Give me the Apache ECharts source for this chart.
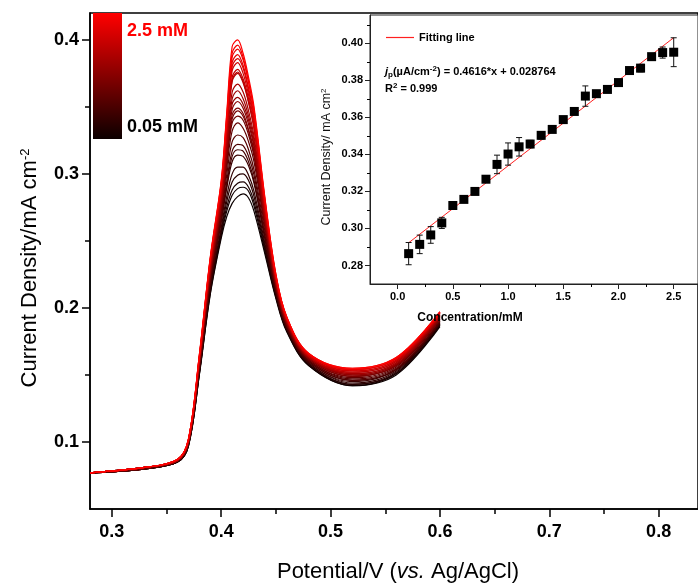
<!DOCTYPE html>
<html>
<head>
<meta charset="utf-8">
<script src="https://cdn.jsdelivr.net/npm/echarts@6/dist/echarts.min.js"></script>
<style>
  html, body { margin: 0; padding: 0; background: #fff; }
  #chart { width: 698px; height: 586px; }
</style>
</head>
<body>
<div id="chart"></div>
<script>
// ---- DPV scans: potential grid (V vs Ag/AgCl) shared by every scan ----
const potential = [0.28, 0.33, 0.36, 0.37, 0.38, 0.39, 0.40, 0.405, 0.41, 0.415, 0.42, 0.425, 0.43, 0.44, 0.45, 0.46, 0.48, 0.52, 0.56, 0.60];

// concentrations of the scans, mM (0.05 mM = darkest, 2.5 mM = red)
const concentrations = [0.05, 0.1, 0.2, 0.3, 0.4, 0.5, 0.6, 0.7, 0.8, 0.9, 1.0, 1.1, 1.2, 1.3, 1.4, 1.5, 1.6, 1.7, 1.8, 1.9, 2.0, 2.1, 2.2, 2.3, 2.4, 2.5];

// current density, mA cm^-2, one row per concentration
const scans = [
  [0.077,0.080,0.085,0.097,0.150,0.210,0.252,0.268,0.278,0.283,0.285,0.282,0.272,0.240,0.207,0.182,0.157,0.142,0.150,0.186],
  [0.077,0.080,0.085,0.097,0.151,0.211,0.254,0.272,0.284,0.289,0.290,0.287,0.276,0.242,0.208,0.183,0.157,0.142,0.151,0.187],
  [0.077,0.080,0.085,0.097,0.151,0.213,0.256,0.275,0.288,0.293,0.294,0.290,0.279,0.244,0.209,0.183,0.158,0.143,0.151,0.187],
  [0.077,0.080,0.085,0.098,0.152,0.214,0.258,0.279,0.294,0.299,0.300,0.295,0.283,0.246,0.210,0.184,0.158,0.143,0.152,0.188],
  [0.077,0.080,0.085,0.098,0.153,0.215,0.260,0.283,0.300,0.305,0.305,0.299,0.287,0.248,0.210,0.184,0.159,0.144,0.153,0.188],
  [0.077,0.080,0.086,0.098,0.154,0.218,0.264,0.289,0.309,0.314,0.313,0.306,0.293,0.251,0.212,0.185,0.159,0.145,0.154,0.189],
  [0.077,0.080,0.086,0.099,0.155,0.218,0.265,0.291,0.313,0.318,0.317,0.309,0.295,0.253,0.212,0.185,0.160,0.146,0.154,0.189],
  [0.077,0.080,0.086,0.099,0.155,0.220,0.267,0.294,0.317,0.322,0.321,0.313,0.299,0.254,0.213,0.186,0.160,0.146,0.154,0.190],
  [0.077,0.080,0.086,0.099,0.156,0.221,0.269,0.299,0.324,0.329,0.327,0.318,0.303,0.257,0.214,0.186,0.161,0.147,0.155,0.190],
  [0.077,0.080,0.086,0.099,0.157,0.223,0.272,0.304,0.332,0.338,0.334,0.324,0.309,0.260,0.216,0.187,0.161,0.148,0.156,0.191],
  [0.077,0.081,0.086,0.100,0.158,0.225,0.274,0.308,0.338,0.343,0.340,0.329,0.313,0.262,0.216,0.188,0.162,0.149,0.157,0.192],
  [0.077,0.081,0.086,0.100,0.158,0.225,0.276,0.310,0.341,0.347,0.343,0.332,0.315,0.263,0.217,0.188,0.162,0.149,0.157,0.192],
  [0.077,0.081,0.086,0.100,0.159,0.226,0.277,0.312,0.344,0.349,0.345,0.333,0.317,0.264,0.217,0.188,0.162,0.149,0.157,0.192],
  [0.077,0.081,0.086,0.100,0.159,0.227,0.278,0.315,0.348,0.354,0.349,0.337,0.320,0.266,0.218,0.189,0.163,0.150,0.158,0.193],
  [0.077,0.081,0.086,0.100,0.160,0.228,0.280,0.317,0.352,0.357,0.352,0.340,0.322,0.267,0.219,0.189,0.163,0.150,0.158,0.193],
  [0.077,0.081,0.086,0.100,0.160,0.229,0.281,0.320,0.356,0.362,0.356,0.343,0.325,0.269,0.219,0.190,0.163,0.151,0.159,0.194],
  [0.077,0.081,0.086,0.101,0.161,0.230,0.283,0.323,0.361,0.367,0.361,0.347,0.328,0.270,0.220,0.190,0.164,0.151,0.159,0.194],
  [0.077,0.081,0.087,0.101,0.162,0.232,0.286,0.329,0.369,0.375,0.368,0.353,0.334,0.273,0.221,0.191,0.164,0.152,0.160,0.195],
  [0.077,0.081,0.087,0.101,0.162,0.232,0.286,0.330,0.370,0.376,0.369,0.354,0.334,0.274,0.221,0.191,0.164,0.152,0.160,0.195],
  [0.077,0.081,0.087,0.101,0.162,0.233,0.287,0.331,0.372,0.378,0.371,0.356,0.336,0.274,0.222,0.191,0.164,0.153,0.161,0.195],
  [0.077,0.081,0.087,0.101,0.163,0.234,0.289,0.334,0.377,0.383,0.375,0.359,0.339,0.276,0.223,0.192,0.165,0.153,0.161,0.196],
  [0.077,0.081,0.087,0.102,0.163,0.235,0.290,0.337,0.380,0.386,0.379,0.362,0.341,0.277,0.223,0.192,0.165,0.154,0.162,0.196],
  [0.077,0.081,0.087,0.102,0.164,0.236,0.291,0.338,0.383,0.389,0.381,0.364,0.343,0.278,0.223,0.192,0.165,0.154,0.162,0.196],
  [0.077,0.081,0.087,0.102,0.164,0.237,0.293,0.341,0.387,0.393,0.385,0.368,0.346,0.280,0.224,0.193,0.166,0.154,0.162,0.197],
  [0.077,0.081,0.087,0.102,0.165,0.237,0.294,0.343,0.390,0.396,0.387,0.369,0.348,0.281,0.225,0.193,0.166,0.155,0.163,0.197],
  [0.077,0.081,0.087,0.102,0.165,0.238,0.295,0.345,0.395,0.400,0.390,0.372,0.350,0.282,0.225,0.193,0.166,0.155,0.163,0.197]
];

// main axis ticks
const mainXLabels = [0.3, 0.4, 0.5, 0.6, 0.7, 0.8];
const mainXMinor = [0.35, 0.45, 0.55, 0.65, 0.75];
const mainYLabels = [0.1, 0.2, 0.3, 0.4];
const mainYMinor = [0.15, 0.25, 0.35];

// ---- calibration inset ----
const insetConc = [0.1, 0.2, 0.3, 0.4, 0.5, 0.6, 0.7, 0.8, 0.9, 1.0, 1.1, 1.2, 1.3, 1.4, 1.5, 1.6, 1.7, 1.8, 1.9, 2.0, 2.1, 2.2, 2.3, 2.4, 2.5];
const insetPeak = [0.2864, 0.2914, 0.2965, 0.3030, 0.3124, 0.3157, 0.3200, 0.3266, 0.3346, 0.3402, 0.3441, 0.3456, 0.3503, 0.3535, 0.3588, 0.3632, 0.3715, 0.3728, 0.3751, 0.3788, 0.3853, 0.3866, 0.3928, 0.3950, 0.3952];
const insetErr = [0.0060, 0.0050, 0.0045, 0.0030, 0.0010, 0.0010, 0.0008, 0.0010, 0.0050, 0.0060, 0.0050, 0.0020, 0.0020, 0.0010, 0.0010, 0.0010, 0.0055, 0.0010, 0.0010, 0.0010, 0.0010, 0.0020, 0.0010, 0.0030, 0.0078];
const fitSlope = 0.4616;       // as printed in the equation
const fitIntercept = 0.028764; // as printed in the equation
const fitRange = [0.1, 2.5];

const insetXLabels = [0, 0.5, 1.0, 1.5, 2.0, 2.5];
const insetXMinor = [0.25, 0.75, 1.25, 1.75, 2.25];
const insetYLabels = [0.28, 0.30, 0.32, 0.34, 0.36, 0.38, 0.40];
const insetYMinor = [0.29, 0.31, 0.33, 0.35, 0.37, 0.39, 0.41];

// ---------------------------------------------------------------
const FONT = 'Arial, "Liberation Sans", sans-serif';
const chart = echarts.init(document.getElementById('chart'), null, { renderer: 'canvas' });

const cMin = concentrations[0], cMax = concentrations[concentrations.length - 1];
function scanColor(c) {
  const t = (c - cMin) / (cMax - cMin);
  const r = Math.round(12 + t * (255 - 12));
  return 'rgb(' + r + ',0,0)';
}

const scanSeries = scans.map((row, i) => ({
  type: 'line',
  name: concentrations[i] + ' mM',
  xAxisIndex: 0, yAxisIndex: 0,
  data: row.map((v, k) => [potential[k], v]),
  smooth: 0.35,
  showSymbol: false,
  symbol: 'none',
  lineStyle: { color: scanColor(concentrations[i]), width: 1.2 },
  z: 3 + i,
  silent: true
}));

const fitLine = fitRange.map(x => [x, fitSlope * x / 10 + fitIntercept * 10]);

const axisBlack = { color: '#000', width: 1.5 };

// an unlabeled companion axis that only draws the short (minor) ticks
function tickAxis(gridIndex, min, max, pos, vals, len, width) {
  return {
    type: 'value', gridIndex, min, max, position: pos,
    axisLine: { show: false, onZero: false },
    axisTick: { show: true, inside: false, customValues: vals, length: len, lineStyle: { color: '#000', width } },
    axisLabel: { show: false },
    splitLine: { show: false }
  };
}

const option = {
  animation: false,
  backgroundColor: '#fff',
  grid: [
    { left: 90, top: 13, right: -3, bottom: 77, show: true, borderColor: '#000', borderWidth: 1.5, backgroundColor: 'transparent' },
    { left: 370, top: 15, right: -3, bottom: 302, show: true, borderColor: '#222', borderWidth: 1, backgroundColor: '#fff' }
  ],
  xAxis: [
    {
      type: 'value', gridIndex: 0, min: 0.28, max: 0.836, position: 'bottom',
      axisLine: { show: true, onZero: false, lineStyle: axisBlack },
      axisTick: { show: true, customValues: mainXLabels, length: 8, lineStyle: axisBlack },
      axisLabel: { customValues: mainXLabels, formatter: v => v.toFixed(1), color: '#000', fontFamily: FONT, fontSize: 18, fontWeight: 'bold', margin: 14 },
      splitLine: { show: false }
    },
    tickAxis(0, 0.28, 0.836, 'bottom', mainXMinor, 5, 1.5),
    {
      type: 'value', gridIndex: 1, min: -0.25, max: 2.72, position: 'bottom',
      axisLine: { show: true, onZero: false, lineStyle: { color: '#222', width: 1 } },
      axisTick: { show: true, customValues: insetXLabels, length: 5, lineStyle: { color: '#222', width: 1 } },
      axisLabel: { customValues: insetXLabels, formatter: v => v.toFixed(1), color: '#000', fontFamily: FONT, fontSize: 11, fontWeight: 'bold', margin: 7 },
      splitLine: { show: false }
    },
    tickAxis(1, -0.25, 2.72, 'bottom', insetXMinor, 3, 1)
  ],
  yAxis: [
    {
      type: 'value', gridIndex: 0, min: 0.05, max: 0.42, position: 'left',
      axisLine: { show: true, onZero: false, lineStyle: axisBlack },
      axisTick: { show: true, customValues: mainYLabels, length: 8, lineStyle: axisBlack },
      axisLabel: { customValues: mainYLabels, formatter: v => v.toFixed(1), color: '#000', fontFamily: FONT, fontSize: 18, fontWeight: 'bold', margin: 11 },
      splitLine: { show: false }
    },
    tickAxis(0, 0.05, 0.42, 'left', mainYMinor, 5, 1.5),
    {
      type: 'value', gridIndex: 1, min: 0.27, max: 0.4153, position: 'left',
      axisLine: { show: true, onZero: false, lineStyle: { color: '#222', width: 1 } },
      axisTick: { show: true, customValues: insetYLabels, length: 5, lineStyle: { color: '#222', width: 1 } },
      axisLabel: { customValues: insetYLabels, formatter: v => v.toFixed(2), color: '#000', fontFamily: FONT, fontSize: 11, fontWeight: 'bold', margin: 7 },
      splitLine: { show: false }
    },
    tickAxis(1, 0.27, 0.4153, 'left', insetYMinor, 3, 1)
  ],
  legend: {
    data: ['Fitting line'],
    left: 386, top: 32, padding: 0,
    icon: 'rect', itemWidth: 28, itemHeight: 1.2, itemGap: 5,
    textStyle: { fontFamily: FONT, fontSize: 11, fontWeight: 'bold', color: '#000' },
    selectedMode: false
  },
  series: [
    ...scanSeries,
    {
      type: 'line', name: 'Fitting line', xAxisIndex: 2, yAxisIndex: 2,
      data: fitLine, showSymbol: false, symbol: 'none',
      itemStyle: { color: '#ff2020' },
      lineStyle: { color: '#ff2020', width: 1 }, z: 5, silent: true
    },
    {
      type: 'custom', name: 'error', xAxisIndex: 2, yAxisIndex: 2, z: 6, silent: true,
      data: insetConc.map((c, i) => [c, insetPeak[i], insetErr[i]]),
      renderItem: (params, api) => {
        const x = api.value(0), y = api.value(1), e = api.value(2);
        const top = api.coord([x, y + e]);
        const bot = api.coord([x, y - e]);
        const hw = 3;
        const st = { stroke: '#111', lineWidth: 1 };
        return {
          type: 'group',
          children: [
            { type: 'line', shape: { x1: top[0], y1: top[1], x2: bot[0], y2: bot[1] }, style: st },
            { type: 'line', shape: { x1: top[0] - hw, y1: top[1], x2: top[0] + hw, y2: top[1] }, style: st },
            { type: 'line', shape: { x1: bot[0] - hw, y1: bot[1], x2: bot[0] + hw, y2: bot[1] }, style: st }
          ]
        };
      }
    },
    {
      type: 'scatter', name: 'peak', xAxisIndex: 2, yAxisIndex: 2, z: 7, silent: true,
      data: insetConc.map((c, i) => [c, insetPeak[i]]),
      symbol: 'rect', symbolSize: 9,
      itemStyle: { color: '#000', opacity: 1 }
    }
  ],
  graphic: [
    // concentration colour bar
    {
      type: 'rect', left: 93, top: 13, z: 50,
      shape: { width: 29, height: 126 },
      style: {
        fill: { type: 'linear', x: 0, y: 0, x2: 0, y2: 1, colorStops: [ { offset: 0, color: '#ff0000' }, { offset: 1, color: '#0c0000' } ] }
      }
    },
    { type: 'text', left: 127, top: 22, z: 50, style: { text: '2.5 mM', fill: '#ff0000', font: 'bold 18px ' + FONT } },
    { type: 'text', left: 127, top: 118, z: 50, style: { text: '0.05 mM', fill: '#000', font: 'bold 18px ' + FONT } },
    // main axis titles
    {
      type: 'text', x: 30, y: 268, rotation: Math.PI / 2, z: 50,
      style: {
        text: 'Current Density/mA cm{sup|-2}', align: 'center', verticalAlign: 'middle',
        font: '22px ' + FONT, fill: '#000',
        rich: { sup: { font: '13px ' + FONT, fill: '#000', verticalAlign: 'top', padding: [0, 0, 10, 0] } }
      }
    },
    {
      type: 'text', x: 398, y: 572, z: 50,
      style: {
        text: 'Potential/V ({it|vs.} Ag/AgCl)', align: 'center', verticalAlign: 'middle',
        font: '22px ' + FONT, fill: '#000',
        rich: { it: { font: 'italic 22px ' + FONT, fill: '#000' } }
      }
    },
    // inset titles and fit equation
    {
      type: 'text', x: 327, y: 157, rotation: Math.PI / 2, z: 50,
      style: {
        text: 'Current Density/ mA cm{sup|2}', align: 'center', verticalAlign: 'middle',
        font: '12.5px ' + FONT, fill: '#111',
        rich: { sup: { font: '8px ' + FONT, fill: '#111', padding: [0, 0, 6, 0] } }
      }
    },
    {
      type: 'text', x: 470, y: 318, z: 50,
      style: { text: 'Concentration/mM', align: 'center', verticalAlign: 'middle', font: 'bold 12px ' + FONT, fill: '#000' }
    },
    {
      type: 'text', left: 385, top: 65, z: 50,
      style: {
        text: '{it|j}{sub|p}(µA/cm{sup|-2}) = 0.4616*x + 0.028764',
        font: 'bold 11px ' + FONT, fill: '#000',
        rich: {
          it: { font: 'italic bold 11px ' + FONT, fill: '#000' },
          sub: { font: 'bold 8px ' + FONT, fill: '#000', padding: [6, 0, 0, 0] },
          sup: { font: 'bold 8px ' + FONT, fill: '#000', padding: [0, 0, 6, 0] }
        }
      }
    },
    {
      type: 'text', left: 385, top: 82, z: 50,
      style: {
        text: 'R{sup|2} = 0.999', font: 'bold 11px ' + FONT, fill: '#000',
        rich: { sup: { font: 'bold 8px ' + FONT, fill: '#000', padding: [0, 0, 6, 0] } }
      }
    }
  ]
};

chart.setOption(option);
</script>
</body>
</html>
